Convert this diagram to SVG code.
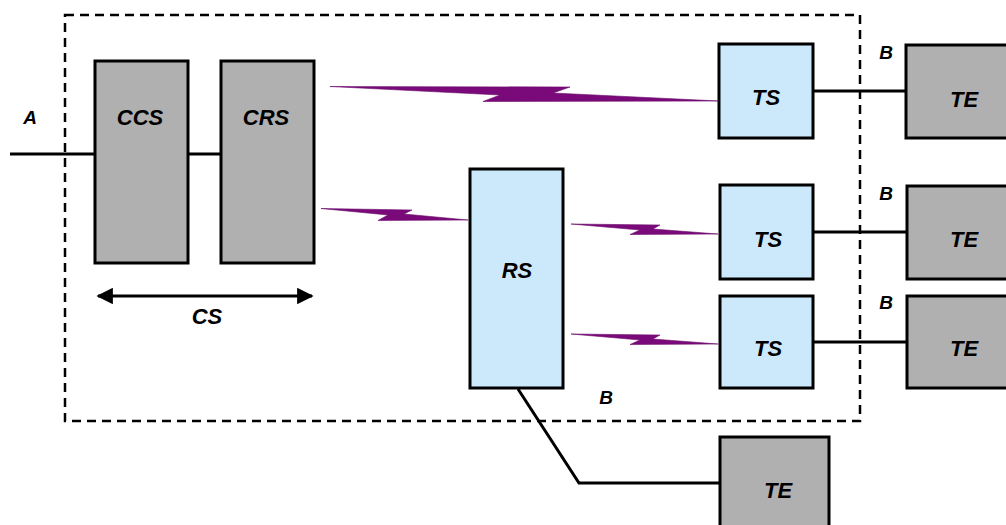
<svg xmlns="http://www.w3.org/2000/svg" width="1006" height="525" viewBox="0 0 1006 525">
  <defs>
    <style>
      .grey { fill: #b0b0b0; stroke: #000; stroke-width: 3px; }
      .blue { fill: #cce9fc; stroke: #000; stroke-width: 3px; }
      .wire { fill: none; stroke: #000; stroke-width: 3px; }
      .bolt { fill: #7a0a7a; stroke: #6a0a6a; stroke-width: 0.6px; }
      .frame { fill: none; stroke: #000; stroke-width: 2.5px; stroke-dasharray: 9 6; }
      .lbl { font-family: "Liberation Sans", Arial, sans-serif; font-weight: bold; font-style: italic; font-size: 22px; fill: #000; text-anchor: middle; }
      .sm { font-size: 19px; }
    </style>
    <marker id="head" viewBox="0 0 10 10" refX="9" refY="5" markerWidth="6.5" markerHeight="5.5" orient="auto-start-reverse" markerUnits="strokeWidth">
      <path d="M0,0 L10,5 L0,10 z" fill="#000"/>
    </marker>
  </defs>
  <rect width="1006" height="525" fill="#fff"/>

  <!-- system boundary -->
  <rect class="frame" x="65" y="15" width="795" height="406"/>

  <!-- connectors -->
  <g id="connectors">
    <line class="wire" x1="10" y1="154" x2="95" y2="154"/>
    <line class="wire" x1="188" y1="154" x2="221" y2="154"/>
    <line class="wire" x1="813" y1="91" x2="906" y2="91"/>
    <line class="wire" x1="813" y1="232" x2="907" y2="232"/>
    <line class="wire" x1="813" y1="342" x2="907" y2="342"/>
    <polyline class="wire" points="518,389 579,483 720,483"/>
    <line x1="98" y1="296" x2="312" y2="296" stroke="#000" stroke-width="3" marker-start="url(#head)" marker-end="url(#head)"/>
    <!-- radio links -->
    <polygon class="bolt" points="330,86.5 570,87 553,93 719,101 483,101.5 500,95"/>
    <polygon class="bolt" points="321,208.5 412,210 404,214 468,220 378,220.5 388,215"/>
    <polygon class="bolt" points="571,224 660,225 653,229 718,234 630,234.5 640,230"/>
    <polygon class="bolt" points="571,334 660,335 653,339 718,344 630,344.5 640,340"/>
  </g>

  <g id="ccs">
    <rect class="grey" x="95" y="61" width="93" height="202"/>
    <text class="lbl" x="140" y="125">CCS</text>
  </g>
  <g id="crs">
    <rect class="grey" x="221" y="61" width="93" height="202"/>
    <text class="lbl" x="266" y="125">CRS</text>
  </g>
  <g id="rs">
    <rect class="blue" x="470" y="169" width="93" height="219"/>
    <text class="lbl" x="517" y="278">RS</text>
  </g>
  <g id="ts1">
    <rect class="blue" x="719" y="44" width="94" height="94"/>
    <text class="lbl" x="766" y="105">TS</text>
  </g>
  <g id="ts2">
    <rect class="blue" x="720" y="185" width="93" height="94"/>
    <text class="lbl" x="768" y="247">TS</text>
  </g>
  <g id="ts3">
    <rect class="blue" x="720" y="296" width="93" height="92"/>
    <text class="lbl" x="768" y="356">TS</text>
  </g>
  <g id="te1">
    <rect class="grey" x="906" y="45" width="110" height="93"/>
    <text class="lbl" x="964" y="107">TE</text>
  </g>
  <g id="te2">
    <rect class="grey" x="907" y="186" width="110" height="93"/>
    <text class="lbl" x="964" y="247">TE</text>
  </g>
  <g id="te3">
    <rect class="grey" x="907" y="296" width="110" height="92"/>
    <text class="lbl" x="964" y="356">TE</text>
  </g>
  <g id="te4">
    <rect class="grey" x="720" y="437" width="109" height="100"/>
    <text class="lbl" x="778" y="498">TE</text>
  </g>

  <!-- reference point labels -->
  <g id="labels">
    <text class="lbl sm" x="30" y="124">A</text>
    <text class="lbl" x="207" y="324">CS</text>
    <text class="lbl sm" x="886" y="59">B</text>
    <text class="lbl sm" x="886" y="200">B</text>
    <text class="lbl sm" x="886" y="309">B</text>
    <text class="lbl sm" x="606" y="404">B</text>
  </g>
</svg>
